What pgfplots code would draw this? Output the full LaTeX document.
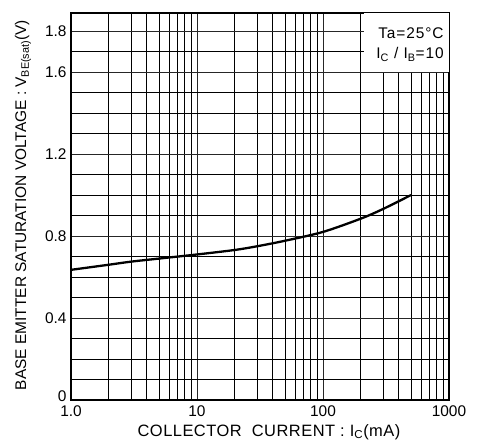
\documentclass[border=0pt]{standalone}
\usepackage{fontspec}
\setmainfont{Liberation Sans}
\usepackage{pgfplots}
\pgfplotsset{compat=1.18}
\begin{document}
\begin{tikzpicture}
\useasboundingbox (-71bp,-45bp) rectangle (417bp,400bp);
\begin{axis}[
  at={(0,0)}, anchor=south west,
  scale only axis, width=378bp, height=387bp,
  xmode=log, xmin=1, xmax=1000, ymin=0, ymax=1.888,
  xtick={1,10,100,1000}, xticklabels={1.0,10,100,1000},
  minor xtick={2,3,4,5,6,7,8,9,20,30,40,50,60,70,80,90,200,300,400,500,600,700,800,900},
  ytick={0,0.4,0.8,1.2,1.6,1.8}, yticklabels={\raisebox{7bp}{0},0.4,0.8,1.2,1.6,1.8},
  minor ytick={0.1,0.2,0.3,0.5,0.6,0.7,0.9,1.0,1.1,1.3,1.4,1.5,1.7},
  grid=both,
  major grid style={black!85, line width=0.9pt},
  minor grid style={black, line width=1pt},
  major tick length=0pt, minor tick length=0pt,
  axis line style={line width=1.9pt},
  tick label style={font=\fontsize{15.5}{15.5}\selectfont},
  /pgf/number format/assume math mode=true,
  xticklabel style={yshift=-2bp},
  yticklabel style={xshift=-1bp},
  clip=true,
]
\addplot[black, line width=2.3pt, smooth] coordinates {
 (1,0.635) (2,0.66) (3,0.675) (5,0.69) (10,0.71) (20,0.732) (30,0.75) (50,0.777) (100,0.82) (200,0.885) (300,0.932) (500,1.0)
};
\fill[white] (axis cs:210,1.6) rectangle (axis cs:1000,1.888);
\node[anchor=east, font=\fontsize{15.5}{15.5}\selectfont\addfontfeatures{LetterSpace=6}, inner sep=0pt] at (axis cs:910,1.79) {Ta=25°C};
\node[anchor=east, font=\fontsize{15.5}{15.5}\selectfont\addfontfeatures{LetterSpace=6}, inner sep=0pt] at (axis cs:910,1.685) {I\textsubscript{C} / I\textsubscript{B}=10};
\end{axis}
\node[rotate=90, font=\fontsize{15.5}{15.5}\selectfont] at (-48bp,195bp) {BASE EMITTER SATURATION VOLTAGE : V\textsubscript{BE(sat)}(V)};
\node[font=\fontsize{16.5}{16.5}\selectfont\addfontfeatures{LetterSpace=3}] at (198bp,-32bp) {COLLECTOR\ \ CURRENT : I\textsubscript{C}(mA)};
\end{tikzpicture}
\end{document}
